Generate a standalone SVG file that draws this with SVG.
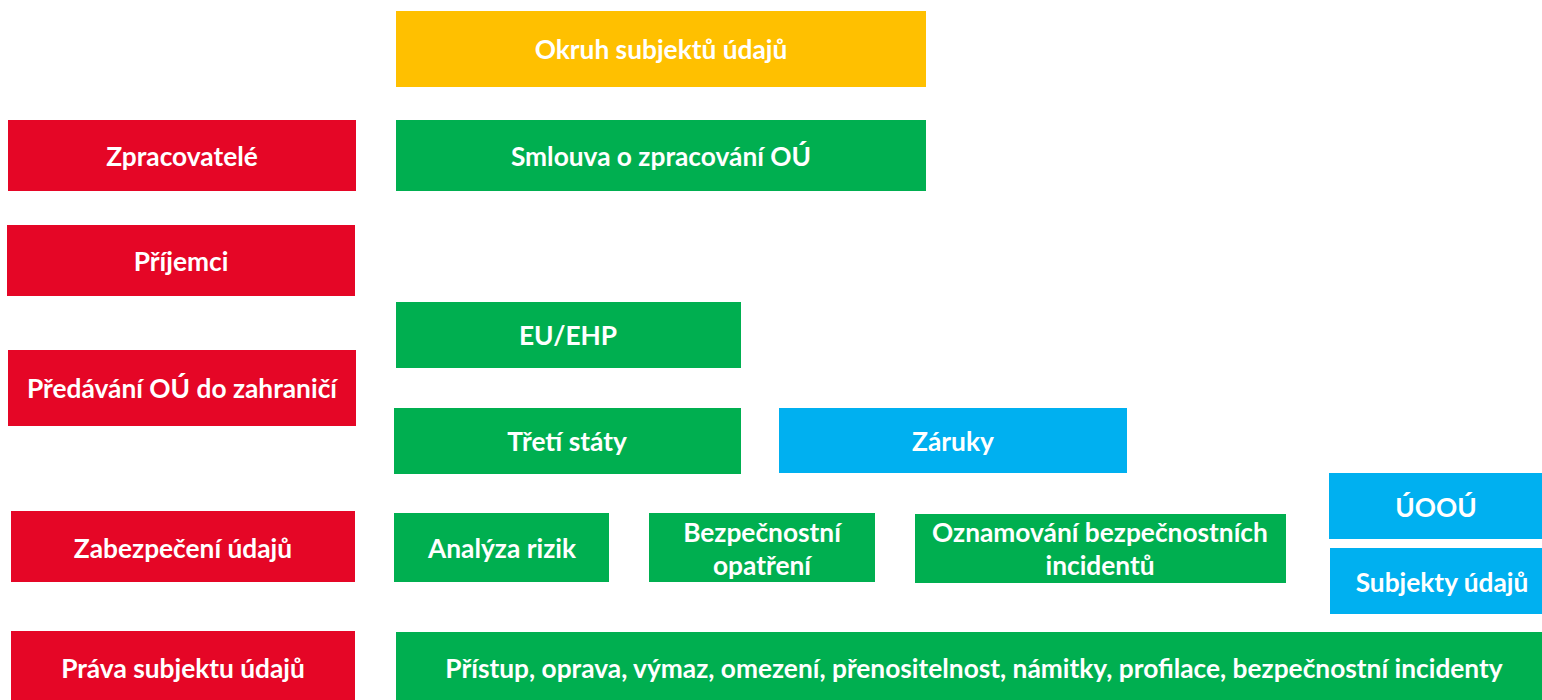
<svg xmlns="http://www.w3.org/2000/svg" width="1542" height="700" viewBox="0 0 1542 700">
<style>
.r{fill:#E50626}.g{fill:#00AF50}.o{fill:#FFC000}.b{fill:#00B0F0}
text{font-family:Lato,"Open Sans","Liberation Sans",sans-serif;font-weight:700;font-size:26.3px;fill:#FFFFFF;text-anchor:middle;dominant-baseline:central}
</style>
<rect width="1542" height="700" fill="#FFFFFF"/>
<g id="okruh"><rect class="o" x="396" y="11" width="530" height="76"/><text x="661" y="49">Okruh subjektů údajů</text></g>
<g id="zpracovatele"><rect class="r" x="8" y="120" width="348" height="71"/><text x="182" y="156">Zpracovatelé</text></g>
<g id="smlouva"><rect class="g" x="396" y="120" width="530" height="71"/><text x="661" y="156">Smlouva o zpracování OÚ</text></g>
<g id="prijemci"><rect class="r" x="7" y="225" width="348" height="71"/><text x="181" y="261">Příjemci</text></g>
<g id="euehp"><rect class="g" x="396" y="302" width="345" height="66"/><text x="568" y="335">EU/EHP</text></g>
<g id="predavani"><rect class="r" x="8" y="350" width="348" height="76"/><text x="182" y="388">Předávání OÚ do zahraničí</text></g>
<g id="treti"><rect class="g" x="394" y="408" width="347" height="66"/><text x="567" y="441">Třetí státy</text></g>
<g id="zaruky"><rect class="b" x="779" y="408" width="348" height="65"/><text x="953" y="441">Záruky</text></g>
<g id="uoou"><rect class="b" x="1329" y="473" width="213" height="66"/><text x="1436" y="507">ÚOOÚ</text></g>
<g id="zabezpeceni"><rect class="r" x="11" y="511" width="344" height="71"/><text x="183" y="548">Zabezpečení údajů</text></g>
<g id="analyza"><rect class="g" x="394" y="513" width="215" height="69"/><text x="502" y="548">Analýza rizik</text></g>
<g id="opatreni"><rect class="g" x="649" y="513" width="226" height="69"/><text x="762" y="532">Bezpečnostní</text><text x="762" y="565">opatření</text></g>
<g id="oznamovani"><rect class="g" x="915" y="514" width="371" height="69"/><text x="1100" y="532">Oznamování bezpečnostních</text><text x="1100" y="565">incidentů</text></g>
<g id="subjekty"><rect class="b" x="1330" y="548" width="212" height="66"/><text x="1442" y="582">Subjekty údajů</text></g>
<g id="prava"><rect class="r" x="11" y="631" width="344" height="69"/><text x="183" y="668">Práva subjektu údajů</text></g>
<g id="pristup"><rect class="g" x="396" y="632" width="1146" height="68"/><text x="974" y="668">Přístup, oprava, výmaz, omezení, přenositelnost, námitky, profilace, bezpečnostní incidenty</text></g>
<g id="connectors"></g>
</svg>
